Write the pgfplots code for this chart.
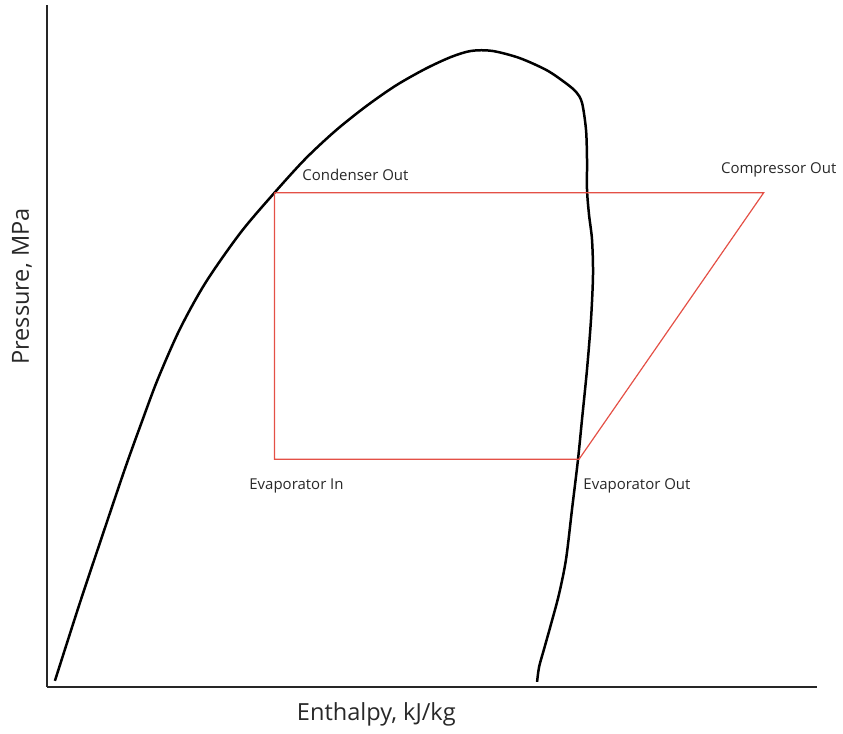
\documentclass[border=0pt]{standalone}
\usepackage{pgfplots}
\pgfplotsset{compat=1.18}
\usepackage{fontspec}
\setmainfont{Open Sans}
\definecolor{cyc}{RGB}{228,80,70}
\definecolor{txt}{RGB}{40,40,40}
\begin{document}
\begin{tikzpicture}
\begin{axis}[
  scale only axis, width=385.5pt, height=341.5pt,
  xmin=47, xmax=818, ymin=43, ymax=726,
  axis x line*=bottom, axis y line*=left,
  axis line style={-, line width=1.3pt, color=black!85},
  xtick=\empty, ytick=\empty,
  clip=false,
]
\path (axis cs:0,0) rectangle (axis cs:843,731);
\addplot[black, line width=1.25pt, smooth, tension=0.5] coordinates {
(55,49) (79,124) (99,184) (125,261) (143,311) (158,351) (180,401) (206,448)
(241,498) (275,538) (306,572) (336,600) (366,624) (396,645) (426,662) (452,674) (472,680)
(493,680) (520,673) (547,661) (565,649) (577,639) (583,628) (587,601) (588,571)
(588,541) (590,516) (593,491) (594,456) (592,411) (588,361) (583,311) (579,271)
(573,221) (567,171) (560,136) (552,106) (545,81) (540,63) (538,48)
};
\addplot[cyc, line width=0.6pt] coordinates {
(275,538) (765,538) (580,271) (275,271) (275,538)
};
\node[txt, font=\fontsize{7.5}{9}\selectfont] at (axis cs:356,556) {Condenser Out};
\node[txt, font=\fontsize{7.5}{9}\selectfont] at (axis cs:780,561) {Compressor Out};
\node[txt, font=\fontsize{7.5}{9}\selectfont] at (axis cs:297,244) {Evaporator In};
\node[txt, font=\fontsize{7.5}{9}\selectfont] at (axis cs:638,244) {Evaporator Out};
\node[txt, font=\fontsize{11.8}{13}\selectfont] at (axis cs:377,15) {Enthalpy, kJ/kg};
\node[txt, font=\fontsize{11.8}{13}\selectfont, rotate=90] at (axis cs:22,444) {Pressure, MPa};
\end{axis}
\end{tikzpicture}
\end{document}
